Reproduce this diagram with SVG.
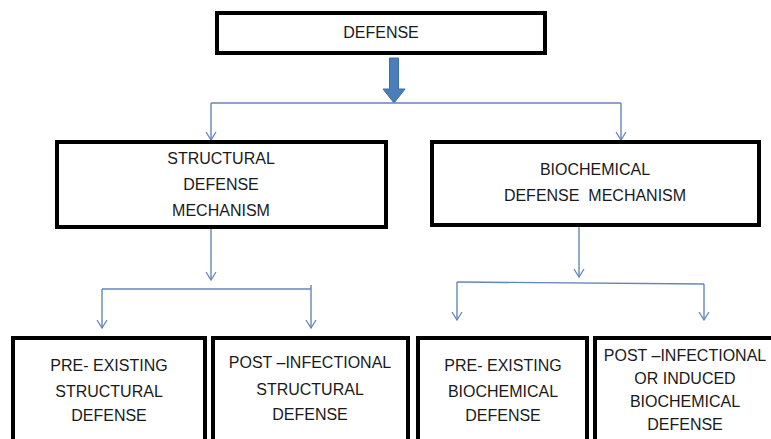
<svg xmlns="http://www.w3.org/2000/svg" width="771" height="439" viewBox="0 0 771 439">
<style>
.box{fill:#fff;stroke:#000;stroke-width:4}
.t{font-family:"Liberation Sans",Arial,sans-serif;font-size:16px;fill:#1a1a1a;text-anchor:middle}
.c{fill:none;stroke:#6585b8;stroke-width:1.4}
</style>
<defs>
<marker id="ah" viewBox="0 0 10 12" refX="9" refY="6" markerWidth="10" markerHeight="12" markerUnits="userSpaceOnUse" orient="auto">
<path d="M1,1 L9,6 L1,11" fill="none" stroke="#6585b8" stroke-width="1.3"/>
</marker>
</defs>
<rect width="771" height="439" fill="#fff"/>
<g id="connectors">
<path d="M389.5,58 H398.5 V89 H405 L394,103 L383,89 H389.5 Z" fill="#4a7ebb" stroke="#3d6ca6" stroke-width="1"/>
<path class="c" d="M211,103 H621"/>
<path class="c" d="M211,103 V140" marker-end="url(#ah)"/>
<path class="c" d="M621,103 V140" marker-end="url(#ah)"/>
<path class="c" d="M211,229 V280" marker-end="url(#ah)"/>
<path class="c" d="M102,289 H311 M311,285 V289"/>
<path class="c" d="M102,289 V328" marker-end="url(#ah)"/>
<path class="c" d="M311,289 V328" marker-end="url(#ah)"/>
<path class="c" d="M579,227 V277" marker-end="url(#ah)"/>
<path class="c" d="M457,282 L704,284"/>
<path class="c" d="M457,282 V320" marker-end="url(#ah)"/>
<path class="c" d="M704,284 V320" marker-end="url(#ah)"/>
</g>
<g id="defense">
<rect class="box" x="217" y="13" width="328" height="40"/>
<text class="t" x="381" y="38">DEFENSE</text>
</g>
<g id="structural">
<rect class="box" x="57" y="142" width="329" height="85"/>
<text class="t" x="221" y="164">STRUCTURAL</text>
<text class="t" x="221" y="190">DEFENSE</text>
<text class="t" x="221" y="216">MECHANISM</text>
</g>
<g id="biochemical">
<rect class="box" x="432" y="142" width="327" height="83"/>
<text class="t" x="595" y="175">BIOCHEMICAL</text>
<text class="t" x="595" y="201" xml:space="preserve">DEFENSE  MECHANISM</text>
</g>
<g id="pre-structural">
<rect class="box" x="13" y="338" width="192" height="110"/>
<text class="t" x="109" y="371">PRE- EXISTING</text>
<text class="t" x="109" y="397">STRUCTURAL</text>
<text class="t" x="109" y="421">DEFENSE</text>
</g>
<g id="post-structural">
<rect class="box" x="213" y="338" width="195" height="110"/>
<text class="t" x="310" y="368">POST –INFECTIONAL</text>
<text class="t" x="310" y="395">STRUCTURAL</text>
<text class="t" x="310" y="420">DEFENSE</text>
</g>
<g id="pre-biochemical">
<rect class="box" x="418" y="338" width="169" height="110"/>
<text class="t" x="503" y="371">PRE- EXISTING</text>
<text class="t" x="503" y="397">BIOCHEMICAL</text>
<text class="t" x="503" y="421">DEFENSE</text>
</g>
<g id="post-biochemical">
<rect class="box" x="595" y="338" width="190" height="110"/>
<text class="t" x="685" y="361">POST –INFECTIONAL</text>
<text class="t" x="685" y="384">OR INDUCED</text>
<text class="t" x="685" y="407">BIOCHEMICAL</text>
<text class="t" x="685" y="430">DEFENSE</text>
</g>
</svg>
